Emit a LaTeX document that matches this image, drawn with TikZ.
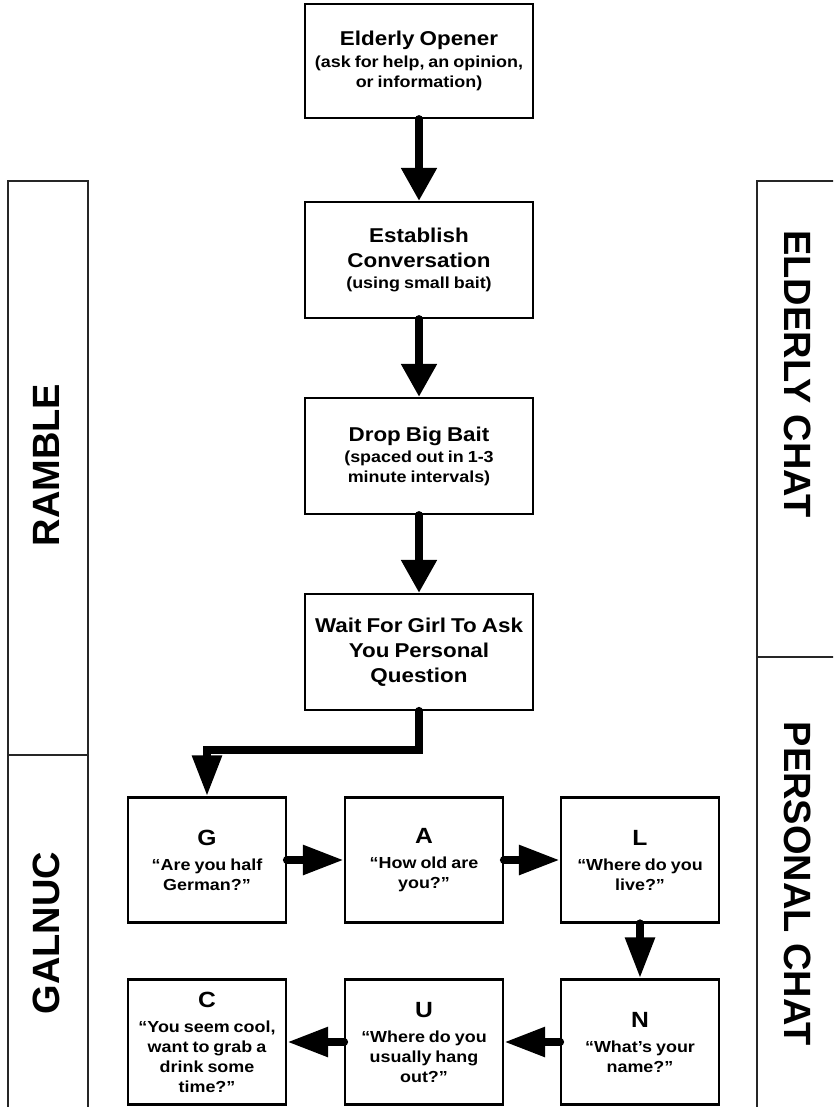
\documentclass[tikz,border=0pt]{standalone}
\usepackage{fontspec}
\setmainfont{Liberation Sans}[FakeStretch=1.12]
\newfontfamily\sidefont{Liberation Sans}
\usepackage{tikz}
\usetikzlibrary{arrows.meta}

\newcommand{\headtxt}{\fontsize{20}{25}\selectfont\bfseries\spaceskip=0.25em}
\newcommand{\smalltxt}{\fontsize{16}{20}\selectfont\bfseries\spaceskip=0.25em}
\newcommand{\lettertxt}{\fontsize{22}{25}\selectfont\bfseries}

\tikzset{
  stepbox/.style={draw,line width=2.2pt,minimum width=228pt,minimum height=116pt,
    text width=226pt,align=center,inner sep=0pt},
  letterbox/.style={draw,line width=2.2pt,minimum width=158pt,minimum height=125pt,
    text width=156pt,align=center,inner sep=0pt},
  flow/.style={line width=8pt,line cap=round,-{Triangle[length=33pt,width=34pt]}},
  rowflow/.style={line width=8.5pt,line cap=round,-{Triangle[length=41pt,width=28pt]}},
  sidebar/.style={line width=1.3pt,black!85},
  sidelabel/.style={font=\sidefont\fontsize{38}{40}\selectfont\bfseries}
}

\begin{document}
\begin{tikzpicture}[x=1pt,y=-1pt]

\useasboundingbox (0,0) rectangle (833,1107);

% Side bars
\begin{scope}
\clip (0,0) rectangle (833,1107);
\draw[sidebar] (8,181) rectangle (88,1130);
\draw[sidebar] (8,755) -- (88,755);
\draw[sidebar] (757,181) rectangle (860,1130);
\draw[sidebar] (757,657) -- (860,657);
\end{scope}

\node[sidelabel,rotate=90] (ramble) at (46,465) {RAMBLE};
\node[sidelabel,rotate=90] (galnuc) at (46,933) {GALNUC};
\node[sidelabel,rotate=-90] (elderly) at (798,374) {ELDERLY CHAT};
\node[sidelabel,rotate=-90] (personal) at (798,884) {PERSONAL CHAT};

% Main column
\node[stepbox,minimum height=114pt] (opener) at (419,61)
  {{\headtxt Elderly Opener\par}\vspace{2pt}
   {\smalltxt (ask for help, an opinion,\\ or information)\par}};
\node[stepbox] (establish) at (419,260)
  {{\headtxt Establish\\ Conversation\par}\vspace{1pt}
   {\smalltxt (using small bait)\par}};
\node[stepbox] (bigbait) at (419,456)
  {{\headtxt Drop Big Bait\par}\vspace{1pt}
   {\smalltxt (spaced out in 1-3\\ minute intervals)\par}};
\node[stepbox] (wait) at (419,652)
  {{\headtxt Wait For Girl To Ask\\ You Personal\\ Question\par}};

% Letter boxes
\node[letterbox] (g) at (207,860)
  {{\lettertxt G\par}\vspace{5pt}{\smalltxt “Are you half\\ German?”\par}};
\node[letterbox] (a) at (424,860)
  {{\lettertxt A\par}\vspace{5pt}{\smalltxt “How old are\\ you?”\par}};
\node[letterbox] (l) at (640,860)
  {{\lettertxt L\par}\vspace{5pt}{\smalltxt “Where do you\\ live?”\par}};
\node[letterbox] (n) at (640,1042)
  {{\lettertxt N\par}\vspace{5pt}{\smalltxt “What’s your\\ name?”\par}};
\node[letterbox] (u) at (424,1042)
  {{\lettertxt U\par}\vspace{5pt}{\smalltxt “Where do you\\ usually hang\\ out?”\par}};
\node[letterbox] (c) at (207,1042)
  {{\lettertxt C\par}\vspace{5pt}{\smalltxt “You seem cool,\\ want to grab a\\ drink some\\ time?”\par}};

% Arrows
\draw[flow] (opener) -- (establish);
\draw[flow] (establish) -- (bigbait);
\draw[flow] (bigbait) -- (wait);
\draw[rowflow] (wait.south) -- ++(0,39) -| (g.north);
\draw[rowflow] (g) -- (a);
\draw[rowflow] (a) -- (l);
\draw[rowflow] (l) -- (n);
\draw[rowflow] (n) -- (u);
\draw[rowflow] (u) -- (c);

\end{tikzpicture}
\end{document}
